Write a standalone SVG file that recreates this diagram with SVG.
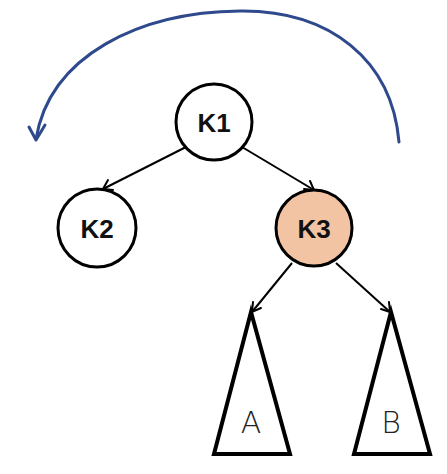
<svg xmlns="http://www.w3.org/2000/svg" width="447" height="474" viewBox="0 0 447 474">
<style>
.node{fill:#fff;stroke:#000;stroke-width:3}
.lbl{font-family:"Liberation Sans",Arial,sans-serif;font-size:26px;font-weight:bold;text-anchor:middle;dominant-baseline:central;fill:#111}
.tri{fill:#fff;stroke:#000;stroke-width:4;stroke-linejoin:miter}
.tl{font-family:"DejaVu Sans",sans-serif;font-size:30px;font-weight:300;text-anchor:middle;dominant-baseline:central;fill:#222}
.edge{fill:none;stroke:#000;stroke-width:2}
.ah{fill:none;stroke:#000;stroke-width:2;stroke-linecap:round}
</style>
<rect width="447" height="474" fill="#fff"/>
<g id="connectors">
<line class="edge" x1="186" y1="147" x2="103" y2="189"/>
<path class="ah" d="M108,180 L103,189 L113,190"/>
<line class="edge" x1="242" y1="147" x2="314" y2="190"/>
<path class="ah" d="M304,189 L314,190 L310,181"/>
<line class="edge" x1="292" y1="263" x2="252" y2="312"/>
<path class="ah" d="M253,302 L252,312 L261,308"/>
<line class="edge" x1="336" y1="263" x2="390" y2="312"/>
<path class="ah" d="M381,309 L390,312 L389,302"/>
<path d="M399,142 C392,60 330,10 240,11 C140,12 50,55 36,139" fill="none" stroke="#2e4a8c" stroke-width="3" stroke-linecap="round"/>
<path d="M29,127 L36,140 L45,125" fill="none" stroke="#2e4a8c" stroke-width="3" stroke-linecap="round" stroke-linejoin="round"/>
</g>
<g id="K1"><circle class="node" cx="214" cy="122" r="38"/><text class="lbl" x="214" y="123">K1</text></g>
<g id="K2"><circle class="node" cx="97" cy="228" r="39"/><text class="lbl" x="97" y="229">K2</text></g>
<g id="K3"><circle cx="314" cy="228" r="38" fill="#f2c4a4" stroke="#000" stroke-width="3"/><text class="lbl" x="314" y="229">K3</text></g>
<g id="A"><polygon class="tri" points="251,312 290,454 214,454"/><text class="tl" x="251" y="422">A</text></g>
<g id="B"><polygon class="tri" points="391,312 430,454 354,454"/><text class="tl" x="391" y="422">B</text></g>
</svg>
